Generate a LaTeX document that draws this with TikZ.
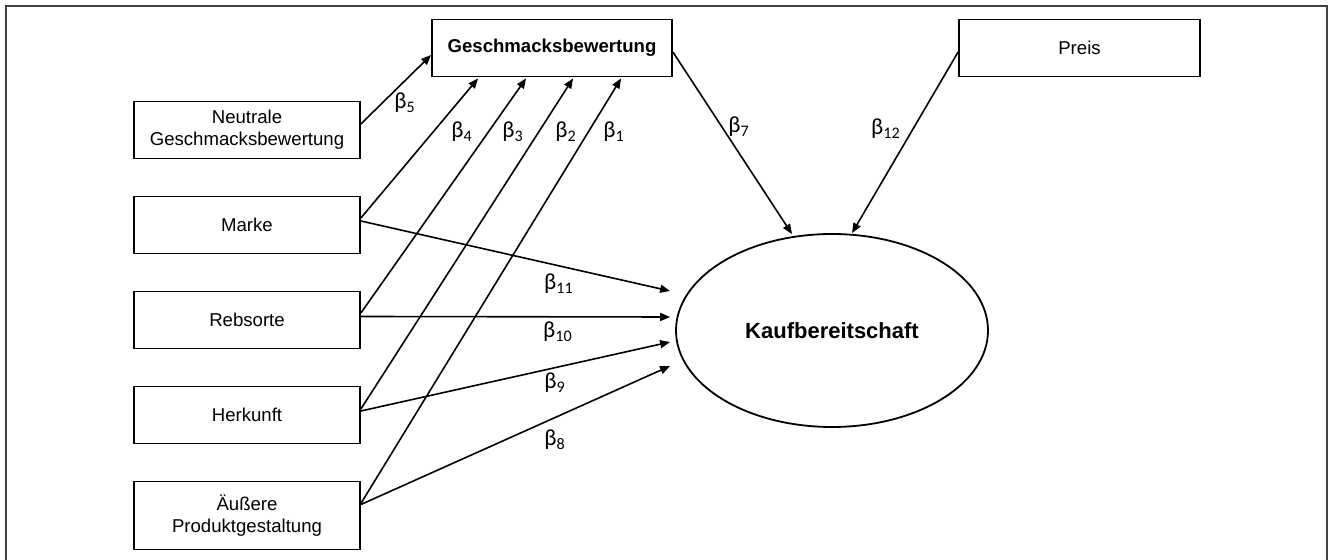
\documentclass[tikz,border=0pt]{standalone}
\usepackage{fontspec}
\setmainfont{Liberation Sans}
\newfontfamily\betafont{Carlito}
\usetikzlibrary{
	arrows.meta,
	positioning,
	shapes.geometric,
	calc,
}
\tikzset{observed/.style={
		% The shape:
		rectangle,
		% The size:
		minimum width=113pt,minimum height=28.5pt,
		% The border:
		line width=0.9pt,draw=black,
		% make sure text aligns properly
		align=center,font=\fontsize{9.3pt}{11pt}\selectfont,
}}
\tikzset{latent/.style={
		% The shape:
		ellipse,
		% The size:
		minimum width=156pt,minimum height=96.5pt,
		% The border:
		line width=0.9pt,draw=black,
		% The text:
		font=\fontsize{11pt}{13pt}\selectfont\bfseries,
}}
\tikzset{coef/.style={
		% plain text, no border
		inner sep=0pt,
		font=\fontsize{11.5pt}{13pt}\betafont,
}}

\begin{document}
\begin{tikzpicture}[x=0.5pt,y=-0.5pt,>={Triangle[length=5pt,width=4pt]},
	line width=0.8pt,black]
	\useasboundingbox (0,0) rectangle (1328,560);
	% frame, open at the bottom
	\draw [line width=1pt,black!75] (5.5,570) -- (5.5,5.7) -- (1327,5.7) -- (1327,570);
	% predictors
	\node (neutral) [observed] at (247,130) {Neutrale\\Geschmacksbewertung};
	\node (marke) [observed, below=18.1pt of neutral] {Marke};
	\node (rebsorte) [observed, below=18.1pt of marke] {Rebsorte};
	\node (herkunft) [observed, below=18.1pt of rebsorte] {Herkunft};
	\node (aeussere) [observed, below=18.1pt of herkunft, minimum height=34pt] {Äußere\\Produktgestaltung};
	% top row
	\node (geschmack) [observed, minimum width=120pt, font=\fontsize{9.3pt}{11pt}\selectfont\bfseries] at (552,48) {Geschmacksbewertung};
	\node (preis) [observed, minimum width=120.5pt] at (1079.5,48) {Preis};
	% outcome
	\node (kauf) [latent] at (832,330.5) {Kaufbereitschaft};
	% paths into Geschmacksbewertung
	\draw [->] ($ (neutral.east) + (0,-6) $) -- ($ (geschmack.west) + (0,7) $);
	\draw [->] ($ (marke.east) + (0,-7) $) -- ($ (geschmack.south west) + (47,1) $);
	\draw [->] ($ (rebsorte.east) + (0,-7) $) -- ($ (geschmack.south west) + (95,1) $);
	\draw [->] ($ (herkunft.east) + (0,-6) $) -- ($ (geschmack.south west) + (142,1) $);
	\draw [->] ($ (aeussere.east) + (0,-12) $) -- ($ (geschmack.south west) + (190,1) $);
	% paths into Kaufbereitschaft
	\draw [->] ($ (marke.east) + (0,-4) $) -- ($ (kauf.west) + (-5,-39.5) $);
	\draw [->] ($ (rebsorte.east) + (0,-3.5) $) -- ($ (kauf.west) + (-5,-13.5) $);
	\draw [->] ($ (herkunft.east) + (0,-4) $) -- ($ (kauf.west) + (-5,11.5) $);
	\draw [->] ($ (aeussere.east) + (0,-11) $) -- ($ (kauf.west) + (-5,35.5) $);
	\draw [->] ($ (geschmack.east) + (0,4) $) -- ($ (kauf.north) + (-40,1) $);
	\draw [->] ($ (preis.west) + (0,4) $) -- ($ (kauf.north) + (20,0) $);
	% coefficients
	\node (b5) [coef] at (405,103) {β\textsubscript{5}};
	\node (b4) [coef] at (462,132) {β\textsubscript{4}};
	\node (b3) [coef] at (513,132) {β\textsubscript{3}};
	\node (b2) [coef] at (566,132) {β\textsubscript{2}};
	\node (b1) [coef] at (614,132) {β\textsubscript{1}};
	\node (b7) [coef] at (739,127) {β\textsubscript{7}};
	\node (b12) [coef] at (886,129) {β\textsubscript{12}};
	\node (b11) [coef] at (559,284) {β\textsubscript{11}};
	\node (b10) [coef] at (558,332) {β\textsubscript{10}};
	\node (b9) [coef] at (555,383) {β\textsubscript{9}};
	\node (b8) [coef] at (555,440) {β\textsubscript{8}};
\end{tikzpicture}
\end{document}
